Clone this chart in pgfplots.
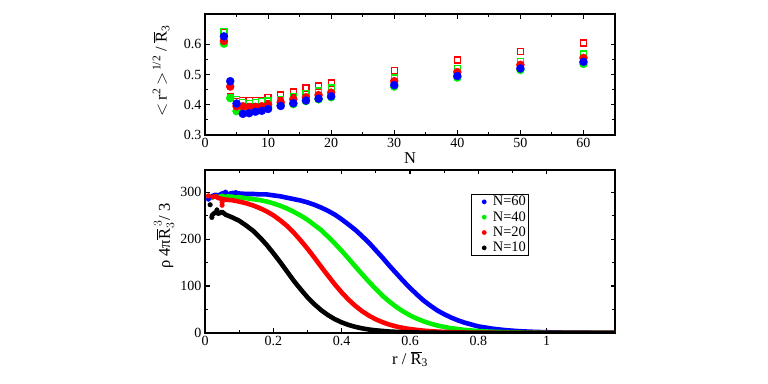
\documentclass[border=0pt]{standalone}
\usepackage{pgfplots}
\pgfplotsset{compat=1.18}
\usepackage{fontspec}
\setmainfont{Liberation Serif}
\definecolor{myblue}{RGB}{0,0,255}
\definecolor{mygreen}{RGB}{0,240,0}
\definecolor{myred}{RGB}{255,0,0}
\pgfplotsset{
  common/.style={
    scale only axis,
    axis line style={line width=1.2bp},
    every tick/.style={line width=1.1bp, black},
    major tick length=4.5bp,
    minor tick length=2.8bp,
    tick align=inside,
    /pgf/number format/assume math mode=true,
    tick label style={font=\fontsize{14bp}{15bp}\selectfont},
    label style={font=\fontsize{16.5bp}{18bp}\selectfont},
  },
  band/.style={line width=4.6bp, mark=none, line join=round, line cap=round},
}
\begin{document}
\begin{tikzpicture}
\path[use as bounding box] (0,0) rectangle (768bp,384bp);
% ---------------- top panel ----------------
\begin{axis}[common,
  at={(205bp,249bp)}, anchor=south west,
  width=410bp, height=121bp,
  xmin=0, xmax=65, ymin=0.3, ymax=0.7,
  xtick={0,10,20,30,40,50,60},
  ytick={0.3,0.4,0.5,0.6},
  yticklabels={0.3,0.4,0.5,0.6},
  minor x tick num=1, minor y tick num=1,
  xlabel={N},
  xlabel style={at={(axis description cs:0.5,-0.19)}, anchor=center},
  ylabel={$<$\,r\textsuperscript{2}\,$>$\textsuperscript{\,1/2} / $\overline{\mbox{R}}$\textsubscript{3}},
  ylabel style={at={(axis description cs:-0.107,0.53)}, anchor=center},
]
\addplot[only marks, mark=square, mark size=3bp, myred, line width=1.3bp] coordinates {
(3,0.638)(4,0.426)(5,0.410)(6,0.415)(7,0.413)(8,0.413)(9,0.415)(10,0.424)(12,0.432)(14,0.442)(16,0.455)(18,0.462)(20,0.472)(30,0.513)(40,0.548)(50,0.577)(60,0.604)};
\addplot[only marks, mark=square, mark size=3bp, mygreen, line width=1.3bp] coordinates {
(3,0.642)(4,0.424)(5,0.418)(6,0.408)(7,0.405)(8,0.407)(9,0.410)(10,0.412)(12,0.418)(14,0.428)(16,0.438)(18,0.445)(20,0.455)(30,0.488)(40,0.520)(50,0.542)(60,0.568)};
\addplot[only marks, mark=*, mark size=4bp, mygreen] coordinates {
(3,0.602)(4,0.422)(5,0.379)(6,0.385)(7,0.385)(8,0.388)(9,0.390)(10,0.392)(12,0.398)(14,0.402)(16,0.412)(18,0.418)(20,0.425)(30,0.460)(40,0.490)(50,0.515)(60,0.535)};
\addplot[only marks, mark=*, mark size=4bp, myred] coordinates {
(3,0.611)(4,0.460)(5,0.395)(6,0.395)(7,0.393)(8,0.393)(9,0.395)(10,0.400)(12,0.408)(14,0.418)(16,0.425)(18,0.432)(20,0.440)(30,0.478)(40,0.508)(50,0.532)(60,0.555)};
\addplot[only marks, mark=*, mark size=4bp, myblue] coordinates {
(3,0.626)(4,0.478)(5,0.404)(6,0.370)(7,0.372)(8,0.377)(9,0.380)(10,0.386)(12,0.396)(14,0.405)(16,0.414)(18,0.420)(20,0.428)(30,0.465)(40,0.495)(50,0.520)(60,0.542)};
\end{axis}
% ---------------- bottom panel ----------------
\begin{axis}[common,
  at={(205bp,51bp)}, anchor=south west,
  width=410bp, height=163bp,
  xmin=0, xmax=1.2, ymin=0, ymax=347,
  xtick={0,0.2,0.4,0.6,0.8,1},
  xticklabels={0,0.2,0.4,0.6,0.8,1},
  ytick={0,100,200,300},
  minor x tick num=1, minor y tick num=1,
  xlabel={r / $\overline{\mbox{R}}$\textsubscript{3}},
  xlabel style={at={(axis description cs:0.5,-0.16)}, anchor=center},
  ylabel={ρ 4π$\overline{\mbox{R}}^{\,3}_{3}$/ 3},
  ylabel style={at={(axis description cs:-0.1,0.595)}, anchor=center},
  legend style={at={(axis description cs:0.648,0.855)}, anchor=north west,
    draw=black, line width=1.1bp, font=\fontsize{14.5bp}{15bp}\selectfont,
    inner xsep=2bp, inner ysep=1.5bp, row sep=3bp,
    nodes={inner sep=0.6bp}},
  legend cell align=left,
  legend image code/.code={%
    \path[draw=none, fill=none] (0bp,0bp) -- (19bp,0bp);
    \path[draw=none, fill] (11bp,0bp) circle (2.4bp);},
]
\addplot[myblue, band] coordinates {
(0.02,291)(0.03,294)(0.04,293)(0.05,297)(0.06,297)(0.07,296)(0.08,298)(0.10,297)(0.12,296)(0.14,296)(0.16,295)(0.18,295)(0.20,293)(0.22,291)(0.24,288)(0.26,285)(0.28,282)(0.30,278)(0.32,273)(0.34,267)(0.36,260)(0.38,252)(0.40,242)(0.42,231)(0.44,219.5)(0.46,206)(0.48,192)(0.50,176)(0.52,160)(0.54,143)(0.56,127)(0.58,111)(0.60,96)(0.62,82)(0.64,69)(0.66,58)(0.68,48)(0.70,40)(0.72,33)(0.74,27)(0.76,22)(0.78,18)(0.80,14)(0.84,9.3)(0.88,6)(0.92,3.8)(0.96,2.5)(1.00,1.6)(1.05,0.9)(1.10,0.6)(1.15,0.3)(1.20,0.2)};
\addlegendentry{N=60}
\addplot[mygreen, band] coordinates {
(0.02,288)(0.03,291)(0.04,289)(0.05,292)(0.06,291)(0.08,290)(0.10,289)(0.12,287)(0.14,285)(0.16,283)(0.18,280)(0.20,276)(0.22,271)(0.24,265)(0.26,258)(0.28,250)(0.30,241)(0.32,230)(0.34,219)(0.36,205)(0.38,190.5)(0.40,175)(0.42,158.5)(0.44,141.6)(0.46,125)(0.48,109)(0.50,93.5)(0.52,79)(0.54,66.6)(0.56,55.4)(0.58,45.8)(0.60,37.5)(0.62,30.5)(0.64,24.8)(0.66,20)(0.68,16)(0.70,12.9)(0.72,10.3)(0.76,6.5)(0.80,4.2)(0.84,2.6)(0.88,1.7)(0.92,1.0)(0.96,0.7)(1.00,0.4)(1.10,0.2)(1.20,0.1)};
\addlegendentry{N=40}
\addplot[myred, band] coordinates {
(0.02,289)(0.03,291)(0.04,287)(0.06,284)(0.08,282.6)(0.10,279.8)(0.12,276.3)(0.14,271.8)(0.16,266)(0.18,259)(0.20,250.6)(0.22,240)(0.24,228)(0.26,213.5)(0.28,197)(0.30,179.5)(0.32,160.5)(0.34,141)(0.36,122)(0.38,103.5)(0.40,86.4)(0.42,71)(0.44,57.7)(0.46,46.3)(0.48,36.9)(0.50,29.1)(0.52,22.8)(0.54,17.8)(0.56,13.8)(0.58,10.7)(0.60,8.3)(0.64,4.9)(0.68,2.9)(0.72,1.7)(0.76,1.0)(0.80,0.6)(0.90,0.2)(1.00,0.1)(1.20,0)};
\addlegendentry{N=20}
\addplot[black, band] coordinates {
(0.02,250)(0.03,257)(0.04,254)(0.05,258)(0.06,252)(0.08,246)(0.10,239)(0.12,229)(0.14,218)(0.16,204)(0.18,188)(0.20,170)(0.22,151)(0.24,131)(0.26,111)(0.28,93)(0.30,76)(0.32,61.3)(0.34,48.6)(0.36,38.1)(0.38,29.4)(0.40,22.6)(0.42,17.2)(0.44,13.1)(0.46,9.8)(0.48,7.4)(0.50,5.6)(0.54,3.1)(0.58,1.7)(0.62,1.0)(0.70,0.3)(0.80,0.1)(0.90,0)(1.00,0)(1.10,0)(1.20,0)};
\addlegendentry{N=10}
% scattered points near the origin
\addplot[forget plot, only marks, mark=*, myblue, line width=0.4pt, mark size=2.3bp] coordinates {(0.01,285)(0.06,300)(0.09,299)};
\addplot[forget plot, only marks, mark=*, myred, line width=0.4pt, mark size=2.3bp] coordinates {(0.01,292)(0.05,272)(0.05,278)};
\addplot[forget plot, only marks, mark=*, black, line width=0.4pt, mark size=2.3bp] coordinates {(0.015,273)(0.02,246)(0.035,262)};
\end{axis}
\end{tikzpicture}
\end{document}
